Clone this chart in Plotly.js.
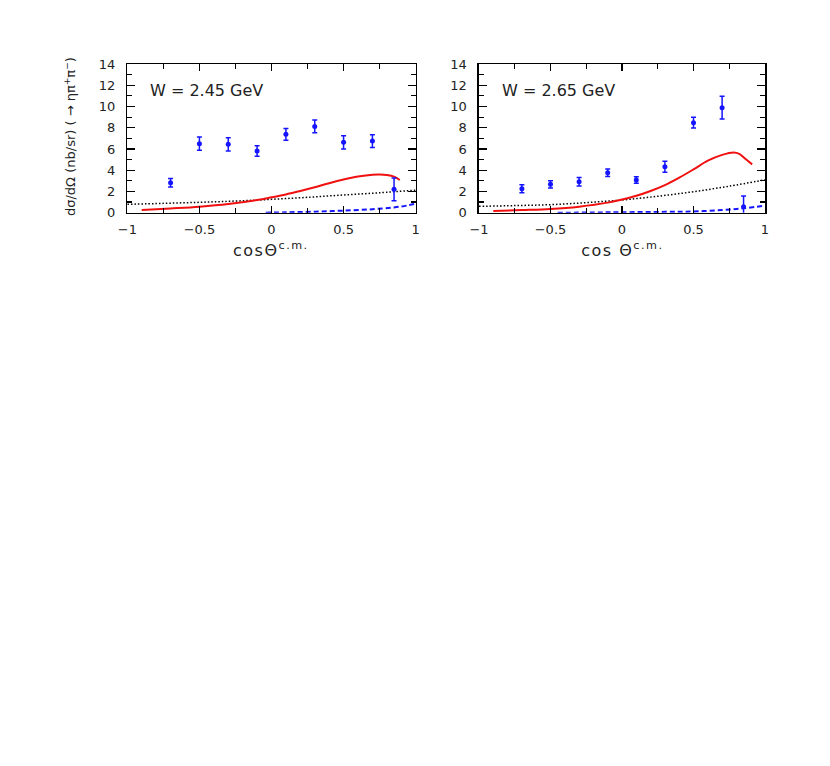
<!DOCTYPE html>
<html>
<head>
<meta charset="utf-8">
<script src="https://cdn.plot.ly/plotly-3.0.1.min.js"></script>
<style>
html,body{margin:0;padding:0;background:#fff;}
#plot{width:830px;height:766px;}
g.annotation[data-index="2"] text, g.annotation[data-index="3"] text {letter-spacing: 1.5px;}
</style>
</head>
<body>
<div id="plot"></div>
<script>
// ---- data: W = 2.45 GeV ----
var dataX = [-0.7, -0.5, -0.3, -0.1, 0.1, 0.3, 0.5, 0.7, 0.85];
var dataY245 = [2.82, 6.5, 6.44, 5.81, 7.38, 8.13, 6.63, 6.75, 2.2];
var errY245 = [0.4, 0.62, 0.62, 0.5, 0.55, 0.6, 0.62, 0.6, 1.08];
var redX245 = [-0.9, -0.7, -0.5, -0.3, -0.1, 0, 0.1, 0.2, 0.3, 0.4, 0.5, 0.6, 0.7, 0.75, 0.8, 0.85, 0.89];
var redY245 = [0.25, 0.4, 0.57, 0.82, 1.2, 1.45, 1.72, 2.05, 2.4, 2.78, 3.12, 3.4, 3.58, 3.6, 3.55, 3.4, 3.08];
var dotX245 = [-1, -0.75, -0.5, -0.25, 0, 0.25, 0.5, 0.75, 1];
var dotY245 = [0.79, 0.88, 0.98, 1.1, 1.26, 1.45, 1.67, 1.88, 2.12];
var dashX245 = [-0.04, 0.1, 0.3, 0.5, 0.7, 0.85, 0.95, 1];
var dashY245 = [0, 0.04, 0.1, 0.2, 0.33, 0.5, 0.7, 0.85];
// ---- data: W = 2.65 GeV ----
var dataY265 = [2.26, 2.67, 2.92, 3.77, 3.08, 4.33, 8.48, 9.89, 0.57];
var errY265 = [0.37, 0.35, 0.4, 0.35, 0.3, 0.52, 0.5, 1.07, 1.0];
var redX265 = [-0.9, -0.7, -0.5, -0.3, -0.1, 0, 0.1, 0.2, 0.3, 0.4, 0.5, 0.6, 0.7, 0.78, 0.82, 0.86, 0.91];
var redY265 = [0.17, 0.25, 0.35, 0.57, 0.95, 1.25, 1.6, 2.05, 2.6, 3.3, 4.08, 4.9, 5.45, 5.68, 5.55, 5.1, 4.55];
var dotX265 = [-1, -0.75, -0.5, -0.25, 0, 0.25, 0.5, 0.75, 1];
var dotY265 = [0.6, 0.67, 0.76, 0.95, 1.2, 1.55, 1.98, 2.5, 3.1];
var dashX265 = [-0.45, -0.2, 0, 0.3, 0.5, 0.7, 0.85, 1];
var dashY265 = [0, 0.02, 0.05, 0.08, 0.12, 0.25, 0.42, 0.66];
var xTickVals = [-1, -0.5, 0, 0.5, 1];
var xTickText = ['\u22121', '\u22120.5', '0', '0.5', '1'];
var yTickVals = [0, 2, 4, 6, 8, 10, 12, 14];

var red = '#f01010', blue = '#1414ff', blk = '#000';
function pts(y, e, xa, ya) {
  return {x: dataX, y: y, xaxis: xa, yaxis: ya, type: 'scatter', mode: 'markers',
    marker: {color: blue, size: 5},
    error_y: {type: 'data', array: e, color: blue, thickness: 1.5, width: 2.5},
    showlegend: false};
}
function line(x, y, xa, ya, color, dash, w) {
  return {x: x, y: y, xaxis: xa, yaxis: ya, type: 'scatter', mode: 'lines',
    line: {color: color, dash: dash, width: w, shape: 'spline'}, showlegend: false};
}
var traces = [
  line(dotX245, dotY245, 'x', 'y', blk, '1.5px,2px', 1.5),
  line(dashX245, dashY245, 'x', 'y', blue, '5px,3px', 2),
  line(redX245, redY245, 'x', 'y', red, 'solid', 2),
  pts(dataY245, errY245, 'x', 'y'),
  line(dotX265, dotY265, 'x2', 'y2', blk, '1.5px,2px', 1.5),
  line(dashX265, dashY265, 'x2', 'y2', blue, '5px,3px', 2),
  line(redX265, redY265, 'x2', 'y2', red, 'solid', 2),
  pts(dataY265, errY265, 'x2', 'y2')
];
var fam = 'DejaVu Sans, Liberation Sans, sans-serif';
var font = {family: fam, size: 13, color: '#222'};
function xax(dom, anchor) {
  return {domain: dom, anchor: anchor, range: [-1, 1], tickvals: xTickVals, ticktext: xTickText,
    ticks: 'inside', ticklen: 7, tickwidth: 1.2, tickcolor: '#000', showline: true, linecolor: '#000', linewidth: 1.5,
    mirror: 'allticks', showgrid: false, zeroline: false, tickfont: font, ticklabelstandoff: 4,
    minor: {dtick: 0.25, tick0: 0, ticks: 'inside', ticklen: 5, tickwidth: 1.2, tickcolor: '#000', showgrid: false}};
}
function yax(anchor) {
  return {domain: [0.7223, 0.9164], anchor: anchor, range: [0, 14], tickvals: yTickVals,
    ticks: 'inside', ticklen: 8, tickwidth: 1.2, tickcolor: '#000', showline: true, linecolor: '#000', linewidth: 1.5,
    mirror: 'allticks', showgrid: false, zeroline: false, tickfont: font, ticklabelstandoff: 8,
    minor: {dtick: 1, tick0: 0, ticks: 'inside', ticklen: 5, tickwidth: 1.2, tickcolor: '#000', showgrid: false}};
}
var layout = {
  width: 830, height: 766, margin: {l: 0, r: 0, t: 0, b: 0},
  paper_bgcolor: '#fff', plot_bgcolor: '#fff', font: font,
  xaxis: xax([0.1534, 0.5008], 'y'),
  yaxis: yax('x'),
  xaxis2: xax([0.5771, 0.9217], 'y2'),
  yaxis2: yax('x2'),
  annotations: [
    {text: 'W = 2.45 GeV', xref: 'paper', yref: 'paper', x: 148/830, y: 1 - 91/766, xanchor: 'left', yanchor: 'middle', showarrow: false, font: {family: fam, size: 16, color: '#222'}},
    {text: 'W = 2.65 GeV', xref: 'paper', yref: 'paper', x: 500/830, y: 1 - 91/766, xanchor: 'left', yanchor: 'middle', showarrow: false, font: {family: fam, size: 16, color: '#222'}},
    {text: 'cos\u0398<sup>c.m.</sup>', xref: 'paper', yref: 'paper', x: 271/830, y: 1 - 249/766, xanchor: 'center', yanchor: 'middle', showarrow: false, font: {family: fam, size: 16, color: '#222'}},
    {text: 'cos \u0398<sup>c.m.</sup>', xref: 'paper', yref: 'paper', x: 622/830, y: 1 - 249/766, xanchor: 'center', yanchor: 'middle', showarrow: false, font: {family: fam, size: 16, color: '#222'}},
    {text: 'd\u03c3/d\u03a9 (nb/sr) ( \u2192 \u03b7\u03c0<sup>+</sup>\u03c0<sup>\u2212</sup>)', xref: 'paper', yref: 'paper', x: 70/830, y: 1 - 137/766, xanchor: 'center', yanchor: 'middle', textangle: -90, showarrow: false, font: {family: fam, size: 13, color: '#222'}}
  ]
};
Plotly.newPlot('plot', traces, layout, {displayModeBar: false, staticPlot: true});
</script>
</body>
</html>
